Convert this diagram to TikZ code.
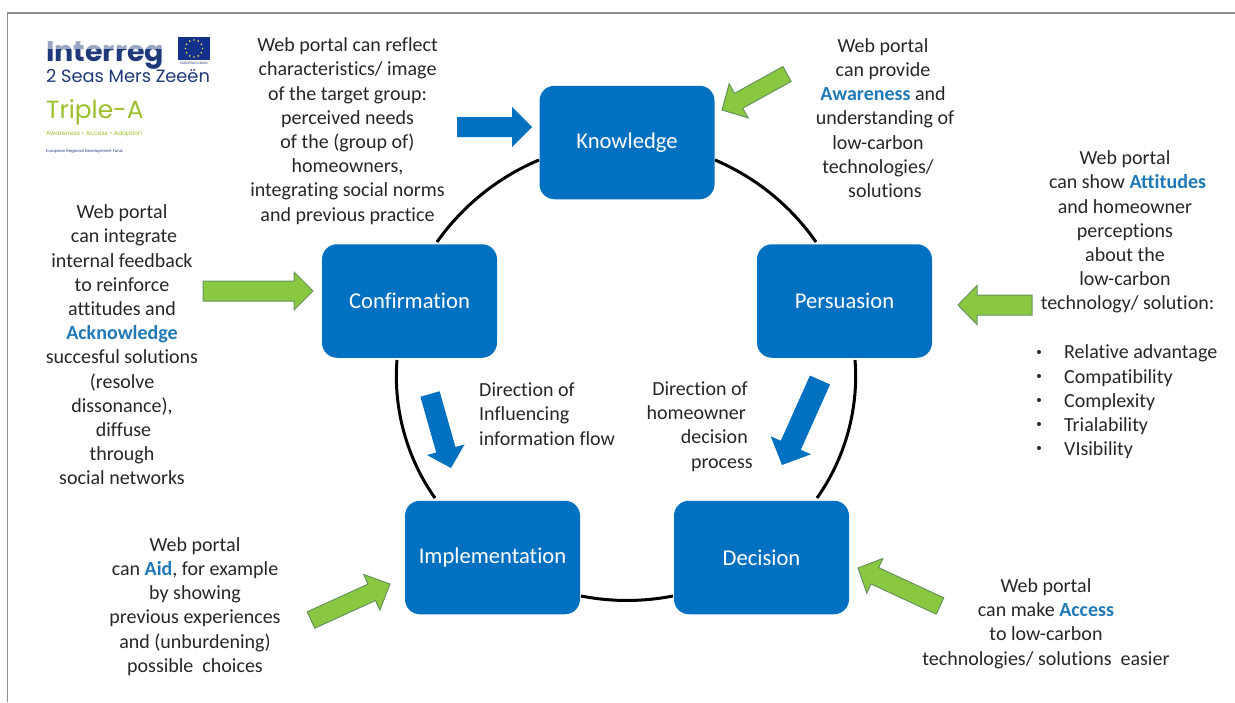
\documentclass[tikz,border=0pt]{standalone}
\usepackage{fontspec}
\usetikzlibrary{calc}
\setmainfont{Carlito}[Ligatures=NoCommon]
\newfontfamily\logofont{Poppins}
\definecolor{boxblue}{HTML}{0070C0}
\definecolor{arrowgreen}{HTML}{8BC842}
\definecolor{arrowedge}{HTML}{66935A}
\definecolor{hiblue}{HTML}{1F78B8}
\definecolor{bodytext}{HTML}{262626}
\definecolor{frameline}{HTML}{8C8C8C}
\definecolor{logonavy}{HTML}{1E3A7B}
\definecolor{logogreen}{HTML}{9ABF2B}
\definecolor{flagblue}{HTML}{12308C}
\definecolor{flagstar}{HTML}{E8D04A}
\newcommand{\hi}[1]{\textcolor{hiblue}{\textbf{#1}}}
\newcommand{\blockarrow}[7]{%
  \coordinate (#1t) at #3;
  \coordinate (#1p) at #4;
  \coordinate (#1h) at ($(#1p)!#7pt!(#1t)$);
  \path[#2] ($(#1t)!#5pt!90:(#1p)$) -- ($(#1h)!#5pt!90:(#1p)$) -- ($(#1h)!#6pt!90:(#1p)$) -- (#1p)
     -- ($(#1h)!#6pt!-90:(#1p)$) -- ($(#1h)!#5pt!-90:(#1p)$) -- ($(#1t)!#5pt!-90:(#1p)$) -- cycle;
}
\tikzset{
  stagebox/.style={rectangle,rounded corners=15pt,fill=boxblue,text=white,inner sep=0pt,
    minimum width=175pt,minimum height=113.5pt,font=\fontsize{22.6}{26}\selectfont},
  bodyblock/.style={inner sep=0pt,align=center,text=bodytext,font=\fontsize{20}{24.2}\selectfont},
  leftblock/.style={bodyblock,align=left},
  ring/.style={line width=3pt,black,bend left=#1,looseness=0.87},
  bluearrow/.style={fill=boxblue},
  greenarrow/.style={fill=arrowgreen,draw=arrowedge,line width=1pt,line join=miter},
  frame/.style={frameline,line width=1.6pt},
}
\begin{document}
\begin{tikzpicture}[x=1pt,y=-1pt]
\useasboundingbox (0,0) rectangle (1235,702);
\coordinate (fa) at (7.5,702); \coordinate (fb) at (7.5,13); \coordinate (fc) at (1235,13);
\draw[frame] (fa) -- (fb) -- (fc);

% ring segments
\coordinate (kp1) at (715,160); \coordinate (kp2) at (816,242);
\coordinate (pd1) at (855,360); \coordinate (pd2) at (817,498);
\coordinate (di1) at (673,596); \coordinate (di2) at (581,596);
\coordinate (ic1) at (435,498); \coordinate (ic2) at (397,360);
\coordinate (ck1) at (437,242); \coordinate (ck2) at (539,160);
\draw[ring=16] (kp1) to (kp2);
\draw[ring=20] (pd1) to (pd2);
\draw[ring=11] (di1) to (di2);
\draw[ring=20] (ic1) to (ic2);
\draw[ring=16] (ck1) to (ck2);

% stages
\node[stagebox] (know) at (627,142.5) {Knowledge};
\node[stagebox] (conf) at (409.5,301) {Confirmation};
\node[stagebox] (pers) at (844.5,301) {Persuasion};
\node[stagebox] (impl) at (492.5,557.5) {Implementation};
\node[stagebox] (deci) at (761.5,557.5) {Decision};

% block arrows
\blockarrow{a}{bluearrow}{(457,127)}{(532,127)}{10}{20}{20}
\blockarrow{b}{greenarrow}{(787,74)}{(722,110)}{8.5}{19.5}{19}
\blockarrow{c}{greenarrow}{(203,291)}{(313,291)}{10}{19}{19}
\blockarrow{d}{greenarrow}{(1032,305)}{(958,305)}{10}{19.5}{19}
\blockarrow{e}{greenarrow}{(311,620)}{(390,584)}{9}{19.5}{20}
\blockarrow{f}{greenarrow}{(940,606)}{(858,568)}{9}{19}{18.5}
\blockarrow{g}{bluearrow}{(430,394)}{(451,468)}{10}{19.5}{19}
\blockarrow{h}{bluearrow}{(820,380)}{(782,465)}{11}{22}{21.6}

% texts
\node[bodyblock] (ta) at (347.5,131) {Web portal can reflect\\characteristics/ image\\of the target group:\\perceived needs\\of the (group of)\\homeowners,\\integrating social norms\\and previous practice};
\node[bodyblock] (tb) at (885,118) {\kern-4pt Web portal\\\kern-4pt can provide\\\kern-4pt\hi{Awareness} and\\understanding of\\\kern-14pt low-carbon\\\kern-14pt technologies/\\solutions};
\node[bodyblock] (tc) at (1125,232) {Web portal\\\kern5pt can show \hi{Attitudes}\\and homeowner\\perceptions\\about the\\low-carbon\\\kern5pt technology/ solution:};
\node[leftblock,anchor=west] (tl) at (1064,402) {Relative advantage\\Compatibility\\Complexity\\Trialability\\VIsibility};
\foreach \yy [count=\i] in {352,376,400,424,448}{
  \fill[bodytext] (1039,\yy) circle (2pt);
}
\node[bodyblock] (td) at (122,345) {Web portal\\\kern4pt can integrate\\internal feedback\\to reinforce\\attitudes and\\\hi{Acknowledge}\\succesful solutions\\(resolve\\dissonance),\\\kern3pt diffuse\\through\\social networks};
\node[leftblock,anchor=west] (te) at (479,414) {Direction of\\Influencing\\information flow};
\node[bodyblock,align=right,anchor=east] (tf) at (753,426.5) {Direction of\kern5pt\\homeowner\kern7pt\\decision\kern5pt\\process};
\node[bodyblock] (tg) at (195,606.5) {Web portal\\can \hi{Aid}, for example\\by showing\\previous experiences\\and (unburdening)\\possible\ \ choices};
\node[bodyblock] (th) at (1046,623.5) {Web portal\\can make \hi{Access}\\to low-carbon\\technologies/ solutions\ \ easier};

% logo
\node[anchor=base west,inner sep=0pt,text=logonavy] (l1) at (46,61) {\logofont\bfseries\fontsize{28.5}{28}\selectfont Interreg};
\coordinate (lv1) at (45,36); \coordinate (lv2) at (170,49);
\fill[white,opacity=0.55] (lv1) rectangle (lv2);
\node[anchor=base west,inner sep=0pt,text=logonavy] (l2) at (46,82) {\logofont\fontsize{17.8}{18}\selectfont 2 Seas Mers Zeeën};
\node[anchor=base west,inner sep=0pt,text=logogreen] (l3) at (46,118) {\logofont\fontsize{24.8}{25}\selectfont Triple-A};
\node[anchor=base west,inner sep=0pt,text=logogreen] (l4) at (46,135) {\logofont\fontsize{6.2}{7}\selectfont Awareness • Access • Adoption};
\node[anchor=base west,inner sep=0pt,text=logonavy] (l5) at (46,152) {\logofont\fontsize{4}{5}\selectfont European Regional Development Fund};
\node[fill=flagblue,minimum width=32pt,minimum height=23pt,inner sep=0pt] (flag) at (194,48.5) {};
\foreach \aa in {0,30,...,330}{
  \fill[flagstar] ($(flag)+(\aa:8.5pt)$) circle (0.9pt);
}
\node[anchor=center,inner sep=0pt,text=logonavy] (l6) at (194,63.5) {\fontsize{3.6}{4}\selectfont EUROPEAN UNION};
\end{tikzpicture}
\end{document}
